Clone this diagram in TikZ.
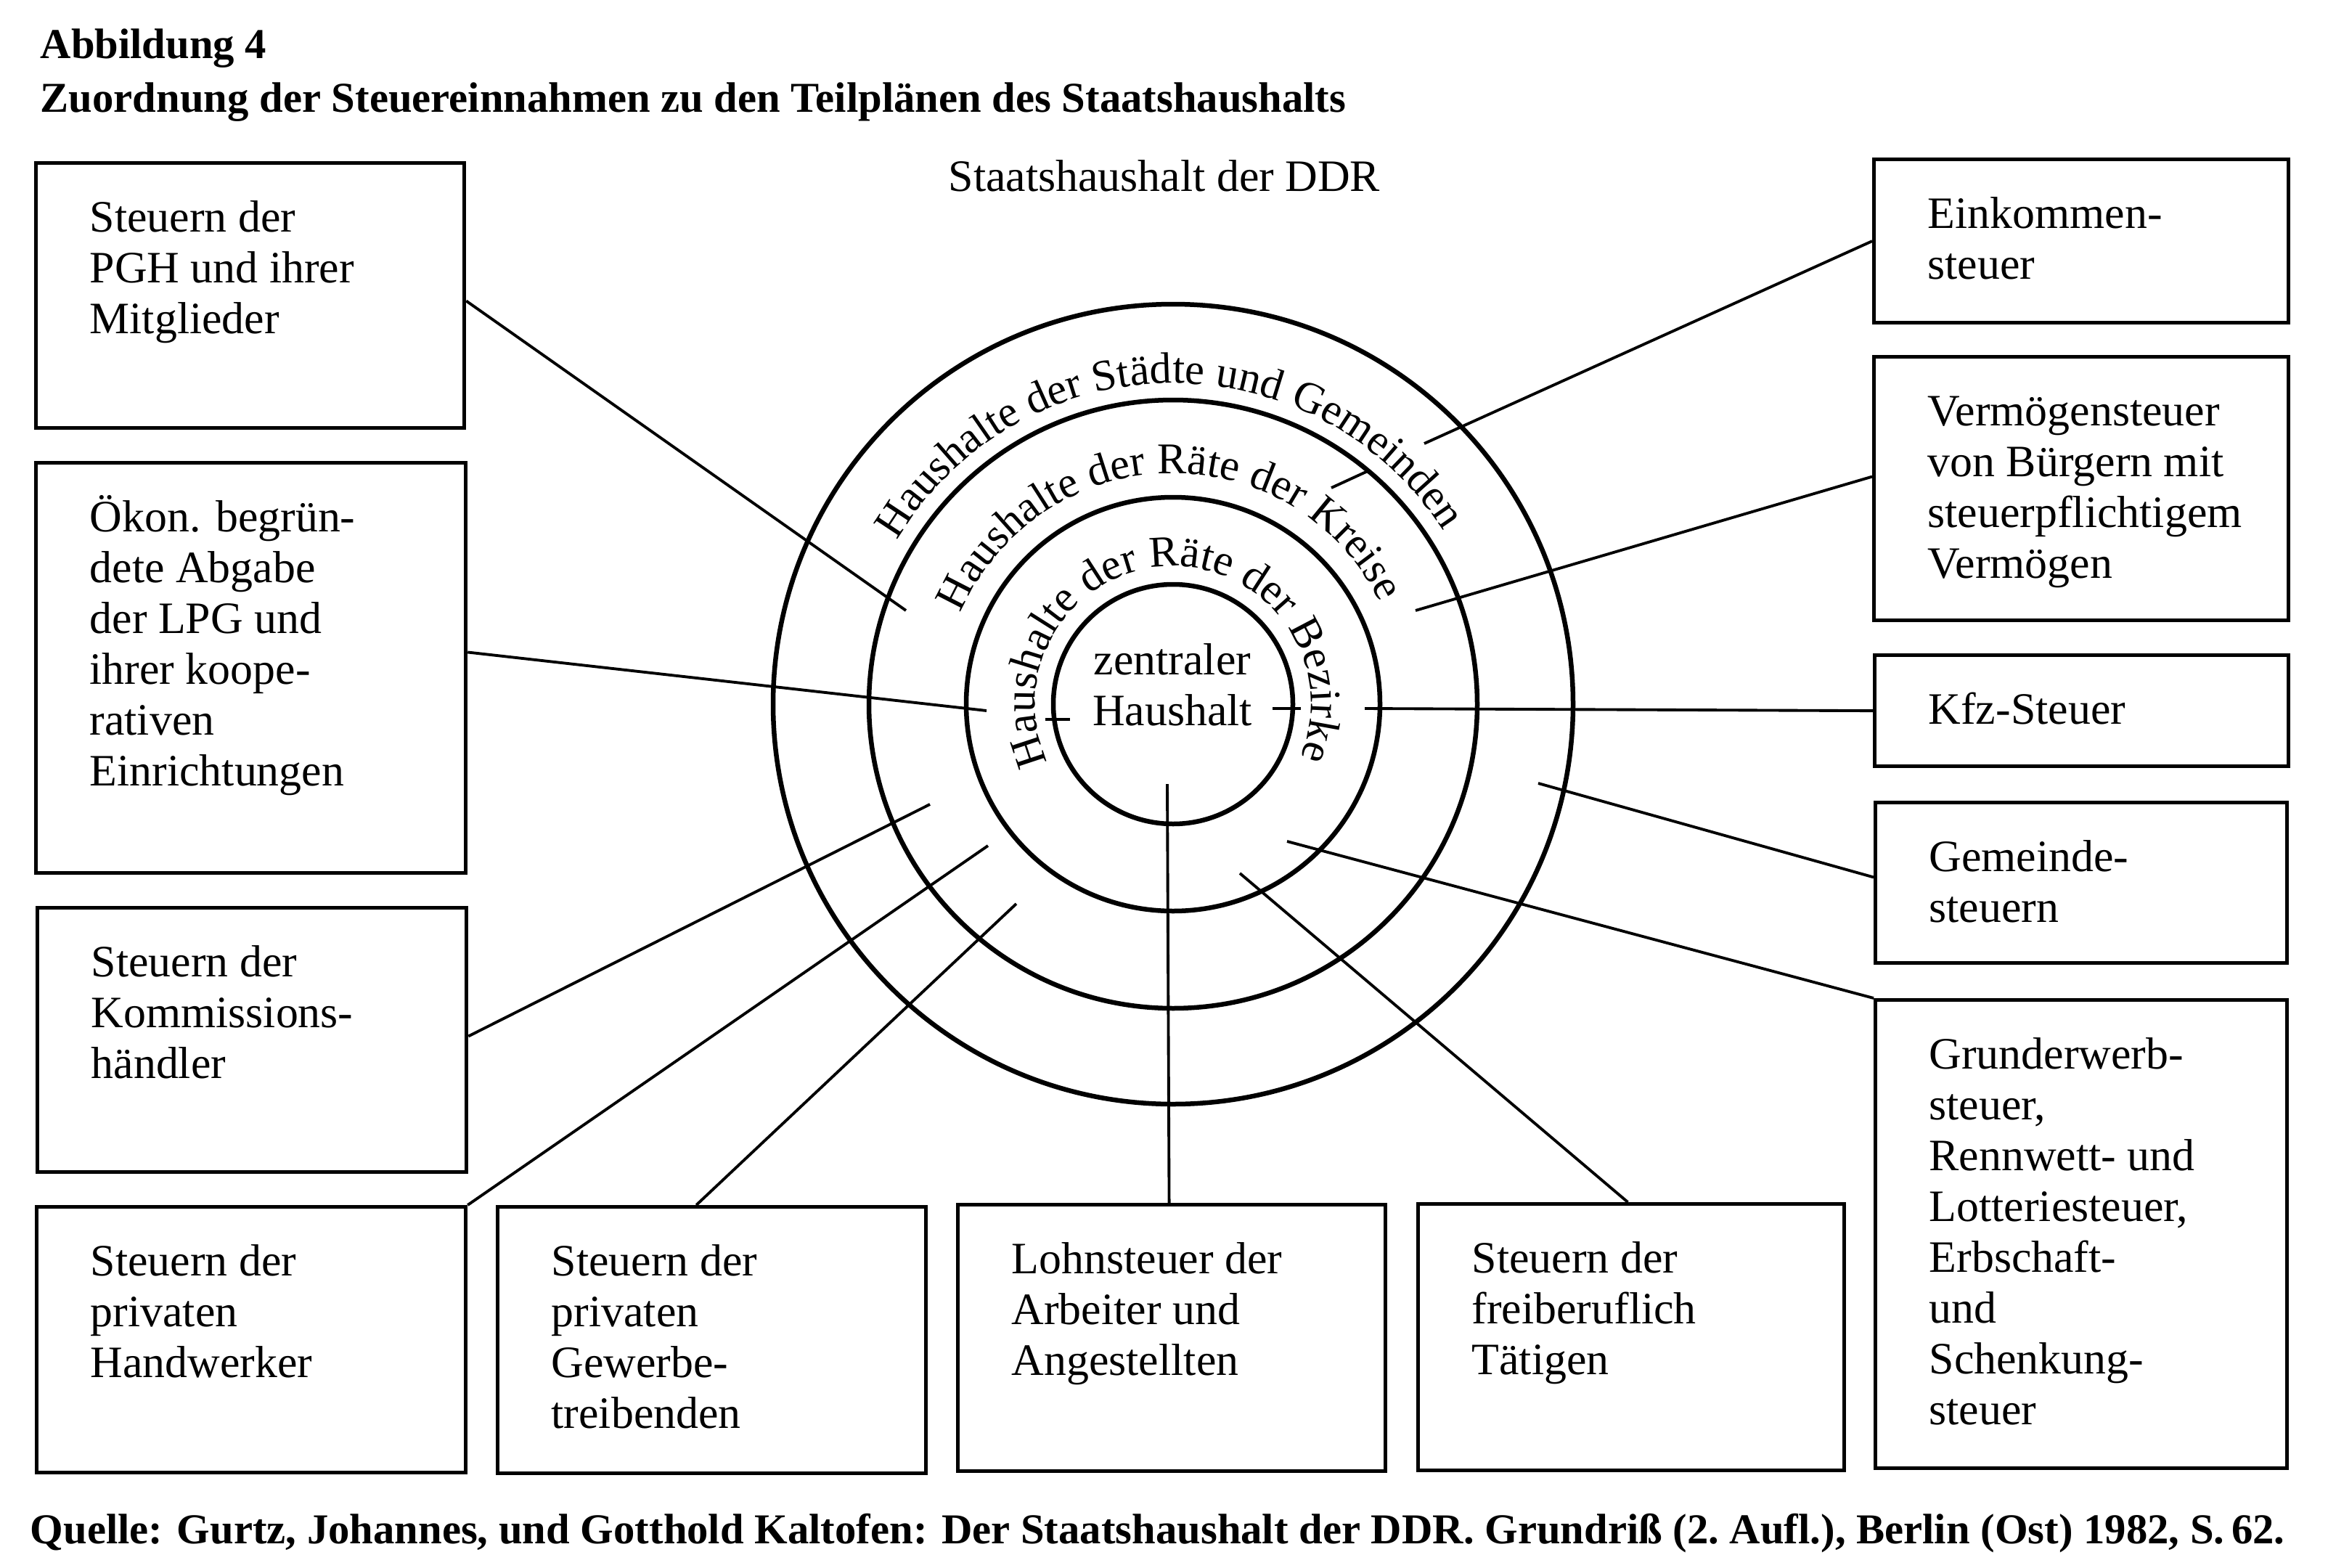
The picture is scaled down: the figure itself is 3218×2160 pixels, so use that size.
\documentclass[tikz,border=0pt]{standalone}
\usepackage{fontspec}
\setmainfont{Liberation Serif}
\usetikzlibrary{decorations.text,calc}
\newcommand\boxfont{\fontsize{17.6pt}{19.92pt}\selectfont}
\newcommand\ringfont{\fontsize{17.2pt}{19.92pt}\selectfont}
\newcommand\titlefont{\fontsize{16.7pt}{20pt}\selectfont\bfseries}
\newcommand\tbl[1]{\begin{tabular}[t]{@{}l@{}}#1\end{tabular}}
\newcommand\tbc[1]{\begin{tabular}[t]{@{}c@{}}#1\end{tabular}}
\tikzset{
  bx/.style={draw, line width=1.5pt, inner sep=0pt, anchor=north west, rectangle},
  tx/.style={anchor=base west, inner sep=0pt, font=\boxfont},
  ring/.style={draw, circle, line width=1.85pt, inner sep=0pt},
  cn/.style={line width=1.1pt},
  ttl/.style={anchor=base west, inner sep=0pt, font=\titlefont}
}
\newcommand\tbox[6]{%
  \node[bx, minimum width=#4*0.1mm, minimum height=#5*0.1mm] (#1) at (#2,-#3) {};
  \node[tx] (#1t) at ($(#1.north west)+(76,-97)$) {\tbl{#6}};
}
\begin{document}
\begin{tikzpicture}[x=0.1mm,y=0.1mm]
\useasboundingbox (0,0) rectangle (3218,-2160);

% titles
\node[ttl] (t1) at (55,-80) {Abbildung 4};
\node[ttl] (t2) at (55,-154) {Zuordnung der Steuereinnahmen zu den Teilplänen des Staatshaushalts};
\node[ttl] (src) at (41,-2126) {Quelle: Gurtz, Johannes, und Gotthold Kaltofen: Der Staatshaushalt der DDR. Grundriß (2.~Aufl.), Berlin (Ost) 1982, S.\,62.};
\node[tx] (sh) at (1306,-263) {Staatshaushalt der DDR};

% boxes
\tbox{B1}{47}{222}{590}{365}{Steuern der\\PGH und ihrer\\Mitglieder}
\tbox{B2}{47}{635}{592}{565}{Ökon. begrün-\\dete Abgabe\\der LPG und\\ihrer koope-\\rativen\\Einrichtungen}
\tbox{B3}{49}{1248}{591}{364}{Steuern der\\Kommissions-\\händler}
\tbox{B4}{48}{1660}{591}{366}{Steuern der\\privaten\\Handwerker}
\tbox{B5}{683}{1660}{590}{367}{Steuern der\\privaten\\Gewerbe-\\treibenden}
\tbox{B6}{1317}{1657}{589}{367}{Lohnsteuer der\\Arbeiter und\\Angestellten}
\tbox{B7}{1951}{1656}{587}{367}{Steuern der\\freiberuflich\\Tätigen}
\tbox{B8}{2579}{217}{571}{225}{Einkommen-\\steuer}
\tbox{B9}{2579}{489}{571}{363}{Vermögensteuer\\von Bürgern mit\\steuerpflichtigem\\Vermögen}
\tbox{B10}{2580}{900}{570}{153}{Kfz-Steuer}
\tbox{B11}{2581}{1103}{567}{221}{Gemeinde-\\steuern}
\tbox{B12}{2581}{1375}{567}{645}{Grunderwerb-\\steuer,\\Rennwett- und\\Lotteriesteuer,\\Erbschaft-\\und\\Schenkung-\\steuer}

% circles
\coordinate (ctr) at (1616,-970);
\node[ring, minimum size=110.2mm] (c1) at (ctr) {};
\node[ring, minimum size=83.8mm] (c2) at (ctr) {};
\node[ring, minimum size=57.0mm] (c3) at (ctr) {};
\node[ring, minimum size=33.0mm] (c4) at (ctr) {};
\node[anchor=base, inner sep=0pt, font=\boxfont] (zh) at (1615,-929) {\tbc{zentraler\\Haushalt}};

% ring texts
\path[decorate, decoration={text along path, text align=center,
  text={|\ringfont|Haushalte der Städte und Gemeinden}}]
  (ctr) ++(171:44.2mm) arc[start angle=171, end angle=11, radius=44.2mm];
\path[decorate, decoration={text along path, text align=center,
  text={|\ringfont|Haushalte der Räte der Kreise}}]
  (ctr) ++(177:31.8mm) arc[start angle=177, end angle=6, radius=31.8mm];
\path[decorate, decoration={text along path, text align=center,
  text={|\ringfont|Haushalte der Räte der Bezirke}}]
  (ctr) ++(240:19.0mm) arc[start angle=240, end angle=-58, radius=19.0mm];

% connector ends
\coordinate (p1) at (1248,-841);
\coordinate (p2) at (1359,-979);
\coordinate (p3) at (1281,-1108);
\coordinate (p4) at (1361,-1165);
\coordinate (p5) at (1400,-1245);
\coordinate (p6) at (1608,-1080);
\coordinate (p7) at (1708,-1203);
\coordinate (p8) at (1773,-1159);
\coordinate (p9) at (2119,-1079);
\coordinate (p10) at (1880,-976);
\coordinate (p11) at (1950,-841);
\coordinate (p12a) at (1962,-611);
\coordinate (p12b) at (1884,-649);
\coordinate (p12c) at (1834,-672);
\coordinate (k1) at (1753,-976);
\coordinate (k2) at (1792,-976);
\coordinate (k3) at (1440,-991);
\coordinate (k4) at (1474,-991);

% connectors
\draw[cn] ($(B1.north east)!0.52!(B1.south east)$) -- (p1);
\draw[cn] ($(B2.north east)!0.462!(B2.south east)$) -- (p2);
\draw[cn] ($(B3.north east)!0.486!(B3.south east)$) -- (p3);
\draw[cn] (B4.north east) -- (p4);
\draw[cn] ($(B5.north west)!0.464!(B5.north east)$) -- (p5);
\draw[cn] ($(B6.north west)!0.494!(B6.north east)$) -- (p6);
\draw[cn] ($(B7.north west)!0.492!(B7.north east)$) -- (p7);
\draw[cn] (B12.north west) -- (p8);
\draw[cn] ($(B11.north west)!0.466!(B11.south west)$) -- (p9);
\draw[cn] (B10.west) -- (p10);
\draw[cn] ($(B9.north west)!0.455!(B9.south west)$) -- (p11);
\draw[cn] (B8.west) -- (p12a);
\draw[cn] (p12b) -- (p12c);
\draw[cn] (k1) -- (k2);
\draw[cn] (k3) -- (k4);
\end{tikzpicture}
\end{document}
